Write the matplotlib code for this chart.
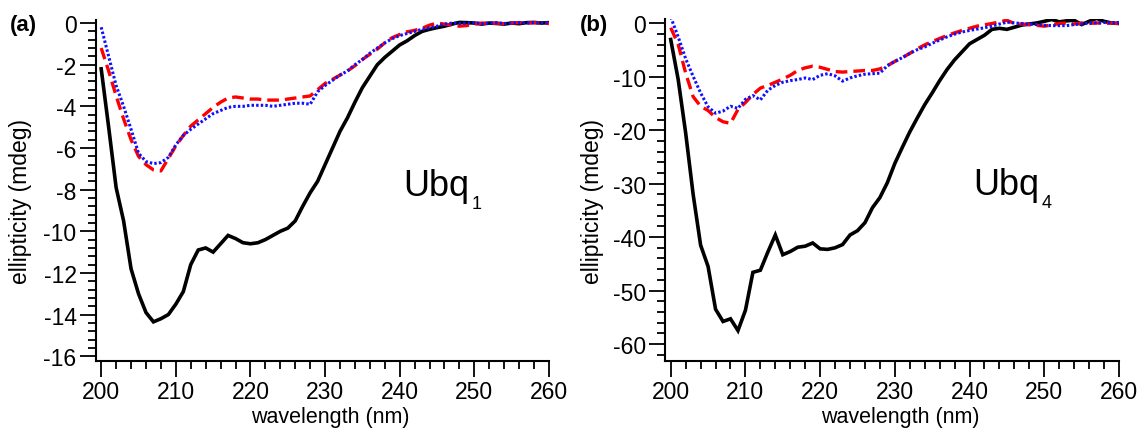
import matplotlib
matplotlib.use("Agg")
import matplotlib.pyplot as plt
from matplotlib.ticker import MultipleLocator

plt.rcParams['font.family'] = ['Liberation Sans', 'DejaVu Sans']
plt.rcParams['axes.unicode_minus'] = False

# --- data (wavelength in nm, ellipticity in mdeg) ---
wl = list(range(200, 261))

# panel (a): Ubq1
ubq1_black = [-2.2, -5.0, -7.9, -9.5, -11.8, -13.0, -13.9, -14.35, -14.2, -14.0,
              -13.5, -12.9, -11.6, -10.9, -10.8, -11.0, -10.6, -10.2, -10.35, -10.55,
              -10.6, -10.55, -10.4, -10.2, -10.0, -9.85, -9.5, -8.8, -8.15, -7.6,
              -6.8, -6.0, -5.2, -4.55, -3.8, -3.1, -2.55, -2.0, -1.65, -1.35,
              -1.05, -0.85, -0.6, -0.4, -0.3, -0.22, -0.15, -0.05, 0.03, 0.02,
              0.0, -0.05, 0.0, -0.02, -0.05, 0.0, -0.03, 0.02, 0.03, 0.0, 0.02]
ubq1_red = [-1.2, -2.3, -3.5, -4.6, -5.6, -6.4, -6.8, -7.05, -7.1, -6.5,
            -5.9, -5.4, -4.95, -4.65, -4.35, -4.05, -3.8, -3.6, -3.55, -3.6,
            -3.65, -3.65, -3.7, -3.7, -3.7, -3.65, -3.6, -3.55, -3.5, -3.2,
            -2.9, -2.7, -2.5, -2.3, -2.05, -1.75, -1.5, -1.25, -0.95, -0.7,
            -0.55, -0.42, -0.35, -0.25, -0.1, 0.0, -0.05, -0.1, -0.15, -0.12,
            -0.05, 0.0, -0.02, 0.0, -0.05, 0.0, 0.02, 0.0, 0.02, 0.0, -0.02]
ubq1_blue = [-0.2, -1.6, -3.0, -4.0, -5.1, -6.25, -6.65, -6.75, -6.7, -6.45,
             -5.85, -5.4, -5.1, -4.85, -4.6, -4.35, -4.2, -4.05, -4.0, -4.0,
             -3.95, -3.95, -3.95, -4.0, -3.95, -3.9, -3.85, -3.85, -3.9, -3.3,
             -3.0, -2.75, -2.5, -2.3, -2.0, -1.75, -1.45, -1.2, -0.95, -0.75,
             -0.6, -0.5, -0.4, -0.3, -0.22, -0.15, -0.05, 0.0, -0.02, 0.0,
             0.02, -0.03, 0.0, 0.02, -0.02, 0.0, 0.03, 0.0, 0.02, 0.0, 0.02]

# panel (b): Ubq4
ubq4_black = [-3.0, -10.5, -20.5, -32.0, -41.5, -45.5, -53.5, -55.8, -55.3, -57.5,
              -53.7, -46.6, -46.2, -42.8, -39.6, -43.3, -42.7, -41.9, -41.7, -41.1,
              -42.2, -42.3, -42.0, -41.4, -39.6, -38.8, -37.3, -34.5, -32.6, -29.8,
              -26.2, -23.2, -20.3, -17.7, -15.2, -13.0, -10.7, -8.6, -6.8, -5.3,
              -3.8, -3.0, -2.2, -1.1, -0.9, -1.1, -0.7, -0.3, -0.1, 0.1,
              0.4, 0.75, 0.3, 0.5, 0.6, -0.2, 0.4, 0.95, 0.4, 0.1, 0.0]
ubq4_red = [-0.8, -3.9, -9.3, -13.7, -15.5, -16.3, -17.6, -18.4, -18.7, -16.1,
            -14.8, -13.3, -12.1, -11.6, -11.0, -10.4, -9.7, -8.8, -8.3, -8.0,
            -8.2, -8.6, -9.0, -9.1, -9.0, -8.9, -8.8, -8.8, -8.5, -7.9,
            -7.1, -6.4, -5.6, -4.75, -4.0, -3.4, -2.8, -2.25, -1.75, -1.3,
            -0.9, -0.5, -0.25, 0.0, 0.3, 0.6, 0.0, -0.1, -0.25, -0.35,
            -0.5, -0.3, 0.0, 0.1, -0.1, 0.1, 0.0, 0.1, 0.0, 0.1, 0.0]
ubq4_blue = [1.2, -2.5, -6.6, -9.9, -13.0, -15.6, -16.8, -16.4, -15.5, -15.9,
             -14.2, -13.5, -14.3, -12.5, -11.6, -11.0, -10.7, -10.5, -10.2, -10.5,
             -9.7, -9.4, -9.8, -10.8, -10.2, -9.8, -9.5, -9.4, -9.3, -7.9,
             -7.1, -6.4, -5.6, -4.9, -4.4, -3.7, -3.1, -2.5, -2.0, -1.6,
             -1.3, -1.05, -0.8, -0.5, -0.1, 0.25, 0.1, 0.0, -0.1, -0.2,
             -0.35, -0.4, -0.4, -0.4, -0.2, -0.1, 0.1, 0.1, 0.2, 0.1, 0.2]

xticks = [200, 210, 220, 230, 240, 250, 260]

fig = plt.figure(figsize=(11.48, 4.31), dpi=100)
ax_a = fig.add_axes([0.0836, 0.1601, 0.3946, 0.7923])
ax_b = fig.add_axes([0.5797, 0.1601, 0.3950, 0.7935])


def draw_panel(ax, black, red, blue, ylim, ymajor, yminor, name, sub, ylab_x):
    ax.plot(wl, black, color='black', lw=2.6, solid_joinstyle='miter')
    ax.plot(wl, red, color='#ff0000', lw=2.4, dashes=(3.5, 1.8))
    ax.plot(wl, blue, color='#1010ff', lw=2.2, dashes=(0.8, 0.7))

    ax.set_xlim(199.3, 260)
    ax.set_ylim(*ylim)
    ax.set_xticks(xticks)
    ax.xaxis.set_minor_locator(MultipleLocator(2))
    ax.yaxis.set_major_locator(MultipleLocator(ymajor))
    ax.yaxis.set_minor_locator(MultipleLocator(yminor))

    for s in ['top', 'right']:
        ax.spines[s].set_visible(False)
    for s in ['left', 'bottom']:
        ax.spines[s].set_linewidth(1.5)
    ax.tick_params(which='major', direction='out', length=11.5, width=1.3,
                   labelsize=16.5, pad=2.5)
    ax.tick_params(which='minor', direction='out', length=6, width=1.3)

    ax.set_xlabel('wavelength (nm)', fontsize=15.5)
    ax.set_ylabel('ellipticity (mdeg)', fontsize=16.5)
    ax.xaxis.set_label_coords(0.517, -0.133)
    ax.yaxis.set_label_coords(ylab_x, 0.47)

    t = ax.text(0.678, 0.487, name, transform=ax.transAxes, fontsize=26,
                va='baseline', ha='left')
    ax.annotate(sub, xy=(1, 0), xycoords=t, xytext=(2, -3.5),
                textcoords='offset points', fontsize=13, va='baseline')


draw_panel(ax_a, ubq1_black, ubq1_red, ubq1_blue, (-16.23, 0.17), 2, 0.4,
           'Ubq', '1', -0.141)
draw_panel(ax_b, ubq4_black, ubq4_red, ubq4_blue, (-63.2, 0.84), 10, 2,
           'Ubq', '4', -0.136)

fig.text(10 / 1148, 1 - 25 / 431, '(a)', fontsize=16, fontweight='bold', va='center')
fig.text(580 / 1148, 1 - 25 / 431, '(b)', fontsize=16, fontweight='bold', va='center')

fig.savefig('out.png', dpi=100)
